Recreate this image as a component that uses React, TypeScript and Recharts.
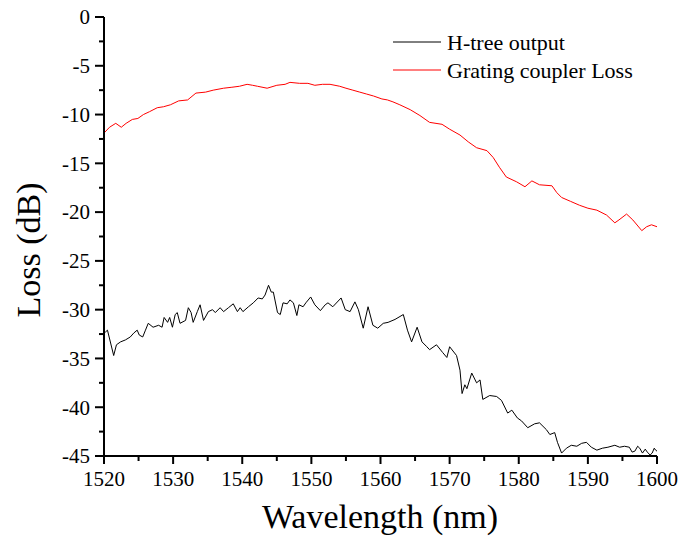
import React from "react";
import { LineChart, Line, XAxis, YAxis, Legend } from "recharts";

// H-tree output (black trace)
const hTreeWavelength = [
  1520.0, 1520.2, 1520.5, 1521.4, 1521.8, 1522.4, 1523.1, 1523.8, 1524.3, 1524.8,
  1525.1, 1525.6, 1526.0, 1526.4, 1527.1, 1527.9, 1528.4, 1528.7, 1529.2, 1529.5,
  1529.9, 1530.3, 1530.6, 1531.0, 1531.8, 1532.2, 1532.6, 1532.9, 1533.5, 1533.9,
  1534.4, 1535.1, 1535.7, 1536.1, 1536.8, 1537.3, 1538.0, 1538.7, 1539.3, 1539.7,
  1540.1, 1540.9, 1541.6, 1542.3, 1542.9, 1543.3, 1543.8, 1544.2, 1544.5, 1545.1,
  1545.5, 1545.9, 1546.5, 1546.9, 1547.4, 1547.9, 1548.2, 1548.8, 1549.2, 1549.9,
  1550.5, 1551.3, 1552.0, 1552.4, 1553.1, 1554.3, 1554.9, 1555.6, 1556.3, 1556.8,
  1557.5, 1558.2, 1558.9, 1559.6, 1560.4, 1561.1, 1562.1, 1563.3, 1563.9, 1564.5,
  1565.3, 1566.0, 1566.7, 1567.1, 1568.1, 1569.0, 1569.6, 1570.0, 1571.0, 1571.5,
  1571.8, 1572.2, 1572.5, 1573.2, 1573.9, 1574.4, 1574.8, 1575.8, 1576.8, 1577.5,
  1578.4, 1579.0, 1579.8, 1580.4, 1581.3, 1582.3, 1583.0, 1584.0, 1584.5, 1585.2,
  1585.6, 1586.2, 1586.9, 1587.6, 1588.4, 1589.1, 1589.8, 1590.5, 1591.3, 1592.1,
  1592.9, 1593.9, 1594.6, 1595.3, 1596.0, 1596.4, 1596.8, 1597.2, 1597.5, 1597.9,
  1598.3, 1598.6, 1599.0, 1599.3, 1599.6, 1599.8, 1600.0,
];
const hTreeLoss = [
  -32.4, -32.3, -32.1, -34.7, -33.6, -33.3, -33.1, -32.8, -32.4, -32.1,
  -32.6, -32.8, -32.1, -31.4, -31.8, -31.6, -31.8, -30.8, -31.3, -30.8,
  -31.8, -30.5, -30.3, -31.4, -31.1, -29.8, -30.3, -31.3, -30.2, -29.5,
  -31.1, -30.2, -30.0, -30.3, -29.8, -30.2, -29.8, -29.4, -30.2, -29.8,
  -30.2, -29.7, -29.3, -28.8, -28.9, -28.5, -27.5, -28.2, -28.2, -30.3,
  -30.5, -29.3, -29.4, -29.0, -29.3, -30.6, -29.5, -29.7, -29.3, -28.7,
  -29.5, -30.1, -29.5, -29.3, -29.7, -28.8, -30.0, -30.2, -29.2, -30.0,
  -31.9, -29.7, -31.6, -31.9, -31.4, -31.3, -31.0, -30.5, -32.1, -33.3,
  -31.8, -33.3, -33.8, -34.1, -33.6, -34.4, -34.9, -33.8, -34.7, -36.2,
  -38.6, -37.7, -38.1, -36.5, -37.5, -37.2, -39.2, -38.8, -38.9, -39.3,
  -40.6, -40.3, -41.1, -41.4, -42.1, -41.7, -41.6, -42.3, -42.8, -42.6,
  -43.6, -44.7, -44.2, -43.9, -44.0, -43.7, -43.6, -44.1, -44.4, -44.2,
  -44.1, -43.9, -44.1, -44.0, -44.1, -44.6, -44.5, -44.0, -44.2, -44.7,
  -44.3, -44.6, -44.9, -44.7, -44.2, -44.4, -44.5,
];

// Grating coupler loss (red trace)
const gratingWavelength = [
  1520.0, 1520.8, 1521.7, 1522.5, 1523.2, 1524.1, 1524.9, 1525.7, 1526.6, 1527.7,
  1528.6, 1529.6, 1530.8, 1532.1, 1533.3, 1534.7, 1535.8, 1537.3, 1538.5, 1539.6,
  1540.7, 1541.5, 1542.2, 1543.6, 1545.0, 1546.2, 1546.9, 1548.3, 1549.5, 1550.5,
  1551.6, 1552.7, 1554.1, 1555.0, 1556.0, 1557.0, 1558.0, 1559.0, 1560.2, 1561.0,
  1561.8, 1562.8, 1564.3, 1565.7, 1567.1, 1568.9, 1570.0, 1571.5, 1572.7, 1573.9,
  1575.4, 1576.3, 1577.2, 1578.2, 1579.7, 1580.9, 1581.9, 1583.0, 1584.8, 1585.5,
  1586.2, 1587.5, 1588.8, 1590.0, 1591.3, 1592.7, 1593.9, 1594.5, 1595.6, 1596.5,
  1597.8, 1598.5, 1599.2, 1600.0,
];
const gratingLoss = [
  -11.9, -11.3, -10.9, -11.3, -10.9, -10.5, -10.4, -10.0, -9.7, -9.3,
  -9.2, -9.0, -8.6, -8.5, -7.8, -7.7, -7.5, -7.3, -7.2, -7.1,
  -6.9, -7.0, -7.1, -7.3, -7.0, -6.9, -6.7, -6.8, -6.8, -7.0,
  -6.9, -6.9, -7.1, -7.3, -7.5, -7.7, -7.9, -8.1, -8.4, -8.5,
  -8.7, -9.0, -9.5, -10.1, -10.8, -11.0, -11.5, -12.1, -12.8, -13.4,
  -13.7, -14.4, -15.4, -16.4, -16.9, -17.4, -16.8, -17.2, -17.3, -18.0,
  -18.5, -18.9, -19.3, -19.6, -19.8, -20.3, -21.1, -20.8, -20.2, -20.8,
  -21.9, -21.5, -21.3, -21.5,
];

const xTicks = [1520, 1525, 1530, 1535, 1540, 1545, 1550, 1555, 1560, 1565, 1570, 1575, 1580, 1585, 1590, 1595, 1600];
const yTicks = [-45, -42.5, -40, -37.5, -35, -32.5, -30, -27.5, -25, -22.5, -20, -17.5, -15, -12.5, -10, -7.5, -5, -2.5, 0];

const hTreeData = hTreeWavelength.map((wl, i) => ({ wl, loss: hTreeLoss[i] }));
const gratingData = gratingWavelength.map((wl, i) => ({ wl, loss: gratingLoss[i] }));

const FONT = "'Liberation Serif', 'Times New Roman', serif";

const YTick = (props: any) => {
  const { x, y, payload } = props;
  const major = payload.value % 5 === 0;
  const len = major ? 9 : 5;
  return (
    <g>
      <line x1={x - len} x2={x} y1={y} y2={y} stroke="#000" strokeWidth={2} />
      {major && (
        <text x={x - len - 5} y={y} dy="0.35em" textAnchor="end" fontFamily={FONT} fontSize={21} fill="#000">
          {payload.value}
        </text>
      )}
    </g>
  );
};

const XTick = (props: any) => {
  const { x, y, payload } = props;
  const major = payload.value % 10 === 0;
  const len = major ? 8 : 5;
  return (
    <g>
      <line x1={x} x2={x} y1={y} y2={y + len} stroke="#000" strokeWidth={2} />
      {major && (
        <text x={x} y={y + len + 6} dy="0.75em" textAnchor="middle" fontFamily={FONT} fontSize={21} fill="#000">
          {payload.value}
        </text>
      )}
    </g>
  );
};

const legendItems = [
  { name: "H-tree output", color: "#000000" },
  { name: "Grating coupler Loss", color: "#ff0000" },
];

const LegendBox = () => (
  <svg width={260} height={60}>
    {legendItems.map((item, i) => (
      <g key={item.name}>
        <line x1={0} x2={48} y1={14 + i * 28} y2={14 + i * 28} stroke={item.color} strokeWidth={1} />
        <text x={54} y={14 + i * 28} dy="0.35em" fontFamily={FONT} fontSize={22} fill="#000">
          {item.name}
        </text>
      </g>
    ))}
  </svg>
);

export default function App() {
  return (
    <div style={{ position: "absolute", left: 0, top: 0, background: "#fff" }}>
      <LineChart width={694} height={539} margin={{ top: 17, right: 37, bottom: 0, left: 0 }}>
        <XAxis
          dataKey="wl"
          type="number"
          domain={[1520, 1600]}
          ticks={xTicks}
          interval={0}
          height={83}
          tickSize={0}
          tickMargin={0}
          tickLine={false}
          axisLine={{ stroke: "#000", strokeWidth: 2 }}
          tick={<XTick />}
          label={{
            content: () => (
              <text x={380} y={528} textAnchor="middle" fontFamily={FONT} fontSize={34} fill="#000">
                Wavelength (nm)
              </text>
            ),
          }}
        />
        <YAxis
          type="number"
          domain={[-45, 0]}
          ticks={yTicks}
          interval={0}
          width={104}
          tickSize={0}
          tickMargin={0}
          tickLine={false}
          axisLine={{ stroke: "#000", strokeWidth: 2 }}
          tick={<YTick />}
          label={{
            content: () => (
              <text
                x={40}
                y={250}
                transform="rotate(-90, 40, 250)"
                textAnchor="middle"
                fontFamily={FONT}
                fontSize={34}
                fill="#000"
              >
                Loss (dB)
              </text>
            ),
          }}
        />
        <Legend
          layout="vertical"
          verticalAlign="middle"
          align="center"
          wrapperStyle={{ left: 393, top: 28, width: 260 }}
          content={() => <LegendBox />}
        />
        <Line
          data={hTreeData}
          dataKey="loss"
          name="H-tree output"
          stroke="#000000"
          strokeWidth={1}
          dot={false}
          type="linear"
          isAnimationActive={false}
        />
        <Line
          data={gratingData}
          dataKey="loss"
          name="Grating coupler Loss"
          stroke="#ff0000"
          strokeWidth={1}
          dot={false}
          type="linear"
          isAnimationActive={false}
        />
      </LineChart>
    </div>
  );
}
